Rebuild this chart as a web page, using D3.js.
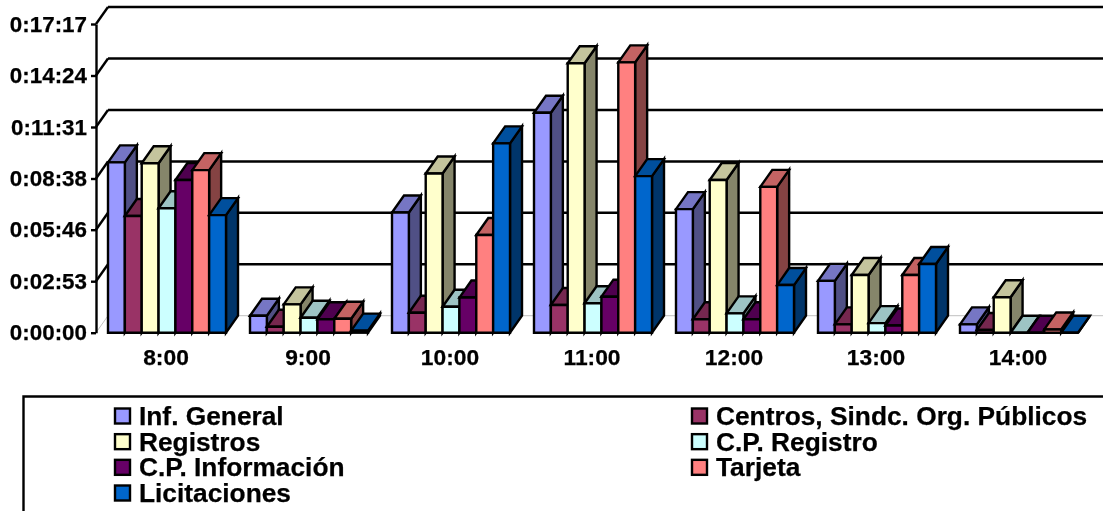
<!DOCTYPE html>
<html><head><meta charset="utf-8">
<script src="https://cdnjs.cloudflare.com/ajax/libs/d3/7.8.5/d3.min.js"></script>
<style>html,body{margin:0;padding:0;background:#fff;overflow:hidden}svg{display:block;filter:blur(0.35px)}text{font-family:"Liberation Sans",Arial,sans-serif;font-weight:bold;fill:#000;stroke:#000;stroke-width:0.25px}</style>
</head><body><svg id="c" width="1103" height="511"></svg>
<script>
const hours = ["8:00","9:00","10:00","11:00","12:00","13:00","14:00"];
const tickSeconds = [0,173,346,518,691,864,1037];
const seriesNames = ["Inf. General","Centros, Sindc. Org. Públicos","Registros","C.P. Registro","C.P. Información","Tarjeta","Licitaciones"];
const seriesColors = ["#9999FF","#993366","#FFFFCC","#CCFFFF","#660066","#FF8080","#0066CC"];
const infGeneral = [572,57,404,739,415,174,28];
const centros = [392,20,67,93,45,28,9];
const registros = [569,95,535,905,513,194,119];
const cpRegistro = [418,50,87,99,65,32,0];
const cpInformacion = [513,45,118,121,45,24,0];
const tarjeta = [546,47,328,908,490,194,11];
const licitaciones = [395,7,636,526,160,231,0];
const seriesValues = [infGeneral,centros,registros,cpRegistro,cpInformacion,tarjeta,licitaciones];

const svg = d3.select("#c");
const dx = 12, dy = -17;
const x0 = d3.scaleBand().domain(hours).range([96,1090]).paddingInner(0).paddingOuter(0);
const y = d3.scaleLinear().domain([0,1037]).range([332.7,24]);
const fmt = s => `0:${d3.format("02")(Math.floor(s/60))}:${d3.format("02")(s%60)}`;
const shade = (c,k) => { const r=d3.rgb(c); return d3.rgb(r.r*k,r.g*k,r.b*k).formatHex(); };

// walls
const W = svg.append("g");
tickSeconds.forEach((t,i)=>{
  const yy=y(t), gray=i===0;
  W.append("line").attr("x1",96+dx).attr("x2",1103).attr("y1",yy+dy).attr("y2",yy+dy)
    .attr("stroke",gray?"#c0c0c0":"#000").attr("stroke-width",gray?1:2.4);
  W.append("line").attr("x1",96).attr("x2",96+dx).attr("y1",yy).attr("y2",yy+dy)
    .attr("stroke",gray?"#c0c0c0":"#000").attr("stroke-width",gray?1:2.4);
});

// axes
const ax = svg.append("g").attr("transform","translate(96,0)")
  .call(d3.axisLeft(y).tickValues(tickSeconds).tickFormat(fmt).tickSizeInner(5).tickSizeOuter(0).tickPadding(4));
ax.selectAll("path,line").attr("stroke","#000").attr("stroke-width",2.4);
ax.selectAll("text").attr("font-size",22.4).attr("font-family",null).style("fill","#000");

const xa = svg.append("g").attr("transform","translate(-1,332.7)")
  .call(d3.axisBottom(x0).tickSize(0).tickPadding(16));
xa.select("path").remove();
xa.selectAll("text").attr("font-size",22.8).attr("font-family",null);

// bars
const inner = d3.scaleBand().domain(d3.range(7)).range([12,130]);
hours.forEach((h,hi)=>{
  const g = svg.append("g");
  seriesValues.forEach((vals,si)=>{
    const c = seriesColors[si], xl = x0(h)+inner(si), xr = xl+inner.bandwidth(), yt=y(vals[hi]), yb=y(0);
    const st={stroke:"#000","stroke-width":2.4,"stroke-linejoin":"miter"};
    const poly=(pts,f)=>{const p=g.append("polygon").attr("points",pts.map(q=>q.join(",")).join(" ")).attr("fill",f);
      Object.entries(st).forEach(([k,v])=>p.attr(k,v));};
    poly([[xr,yt],[xr+dx,yt+dy],[xr+dx,yb+dy],[xr,yb]],shade(c,.52));
    poly([[xl,yt],[xl+dx,yt+dy],[xr+dx,yt+dy],[xr,yt]],shade(c,.77));
    poly([[xl,yt],[xr,yt],[xr,yb],[xl,yb]],c);
  });
});

// legend
const L = svg.append("g");
L.append("path").attr("d","M23.5,511V396.5H1103").attr("fill","none").attr("stroke","#000").attr("stroke-width",2.4);
const rowY = d3.scalePoint().domain(d3.range(4)).range([416,493]);
const colX = d3.scalePoint().domain([0,1]).range([114,691]);
seriesNames.forEach((n,i)=>{
  const col=i%2,row=Math.floor(i/2);
  L.append("rect").attr("x",colX(col)+1).attr("y",rowY(row)-7.5).attr("width",15).attr("height",15)
    .attr("fill",seriesColors[i]).attr("stroke","#000").attr("stroke-width",2.4);
  L.append("text").attr("x",colX(col)+25).attr("y",rowY(row)+9).attr("font-size",26.3).text(n);
});
</script></body></html>
